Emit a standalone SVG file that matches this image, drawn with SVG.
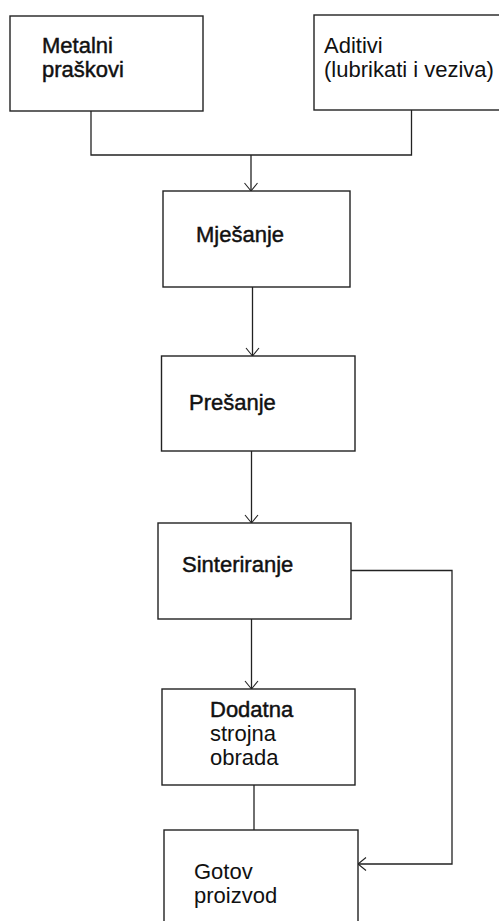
<svg xmlns="http://www.w3.org/2000/svg" width="499" height="921" viewBox="0 0 499 921">
<style>
.box{fill:#fff;stroke:#222;stroke-width:1.4}
.t{font-family:"Liberation Sans",Arial,sans-serif;font-size:22px;fill:#111}
.b{stroke:#111;stroke-width:0.45}
.c{fill:none;stroke:#222;stroke-width:1.3}
</style>
<defs>
<marker id="arr" markerWidth="16" markerHeight="16" refX="10" refY="8" orient="auto" markerUnits="userSpaceOnUse">
<polyline points="2,1.5 10,8 2,14.5" fill="none" stroke="#222" stroke-width="1.1"/>
</marker>
</defs>
<rect width="499" height="921" fill="#fff"/>
<g id="connectors">
<polyline class="c" points="91,111 91,155 251,155"/>
<polyline class="c" points="411.5,110 411.5,155 251,155"/>
<line class="c" x1="251" y1="155" x2="251" y2="191" marker-end="url(#arr)"/>
<line class="c" x1="252.5" y1="287" x2="252.5" y2="356" marker-end="url(#arr)"/>
<line class="c" x1="251.5" y1="451" x2="251.5" y2="523" marker-end="url(#arr)"/>
<line class="c" x1="251.5" y1="619" x2="251.5" y2="689" marker-end="url(#arr)"/>
<line class="c" x1="254" y1="785" x2="254" y2="830"/>
<polyline class="c" points="351,570.5 452,570.5 452,864 358,864" marker-end="url(#arr)"/>
</g>
<g id="metalni">
<rect class="box" x="10" y="16" width="193" height="95"/>
<text class="t b" x="42" y="53">Metalni</text>
<text class="t b" x="42" y="77">praškovi</text>
</g>
<g id="aditivi">
<rect class="box" x="314" y="15" width="200" height="95"/>
<text class="t" x="324" y="52.5">Aditivi</text>
<text class="t" x="324" y="76.5">(lubrikati i veziva)</text>
</g>
<g id="mjesanje">
<rect class="box" x="163" y="191" width="187" height="96"/>
<text class="t b" x="196" y="242">Mješanje</text>
</g>
<g id="presanje">
<rect class="box" x="161.5" y="356" width="193.5" height="95"/>
<text class="t b" x="189" y="410">Prešanje</text>
</g>
<g id="sinteriranje">
<rect class="box" x="158" y="523" width="193" height="96"/>
<text class="t b" x="182" y="572">Sinteriranje</text>
</g>
<g id="dodatna">
<rect class="box" x="162" y="689" width="193" height="96"/>
<text class="t b" x="210" y="716.5">Dodatna</text>
<text class="t" x="210" y="740.5">strojna</text>
<text class="t" x="210" y="765">obrada</text>
</g>
<g id="gotov">
<rect class="box" x="164" y="830" width="194" height="110"/>
<text class="t" x="194" y="879">Gotov</text>
<text class="t" x="194" y="903">proizvod</text>
</g>
</svg>
